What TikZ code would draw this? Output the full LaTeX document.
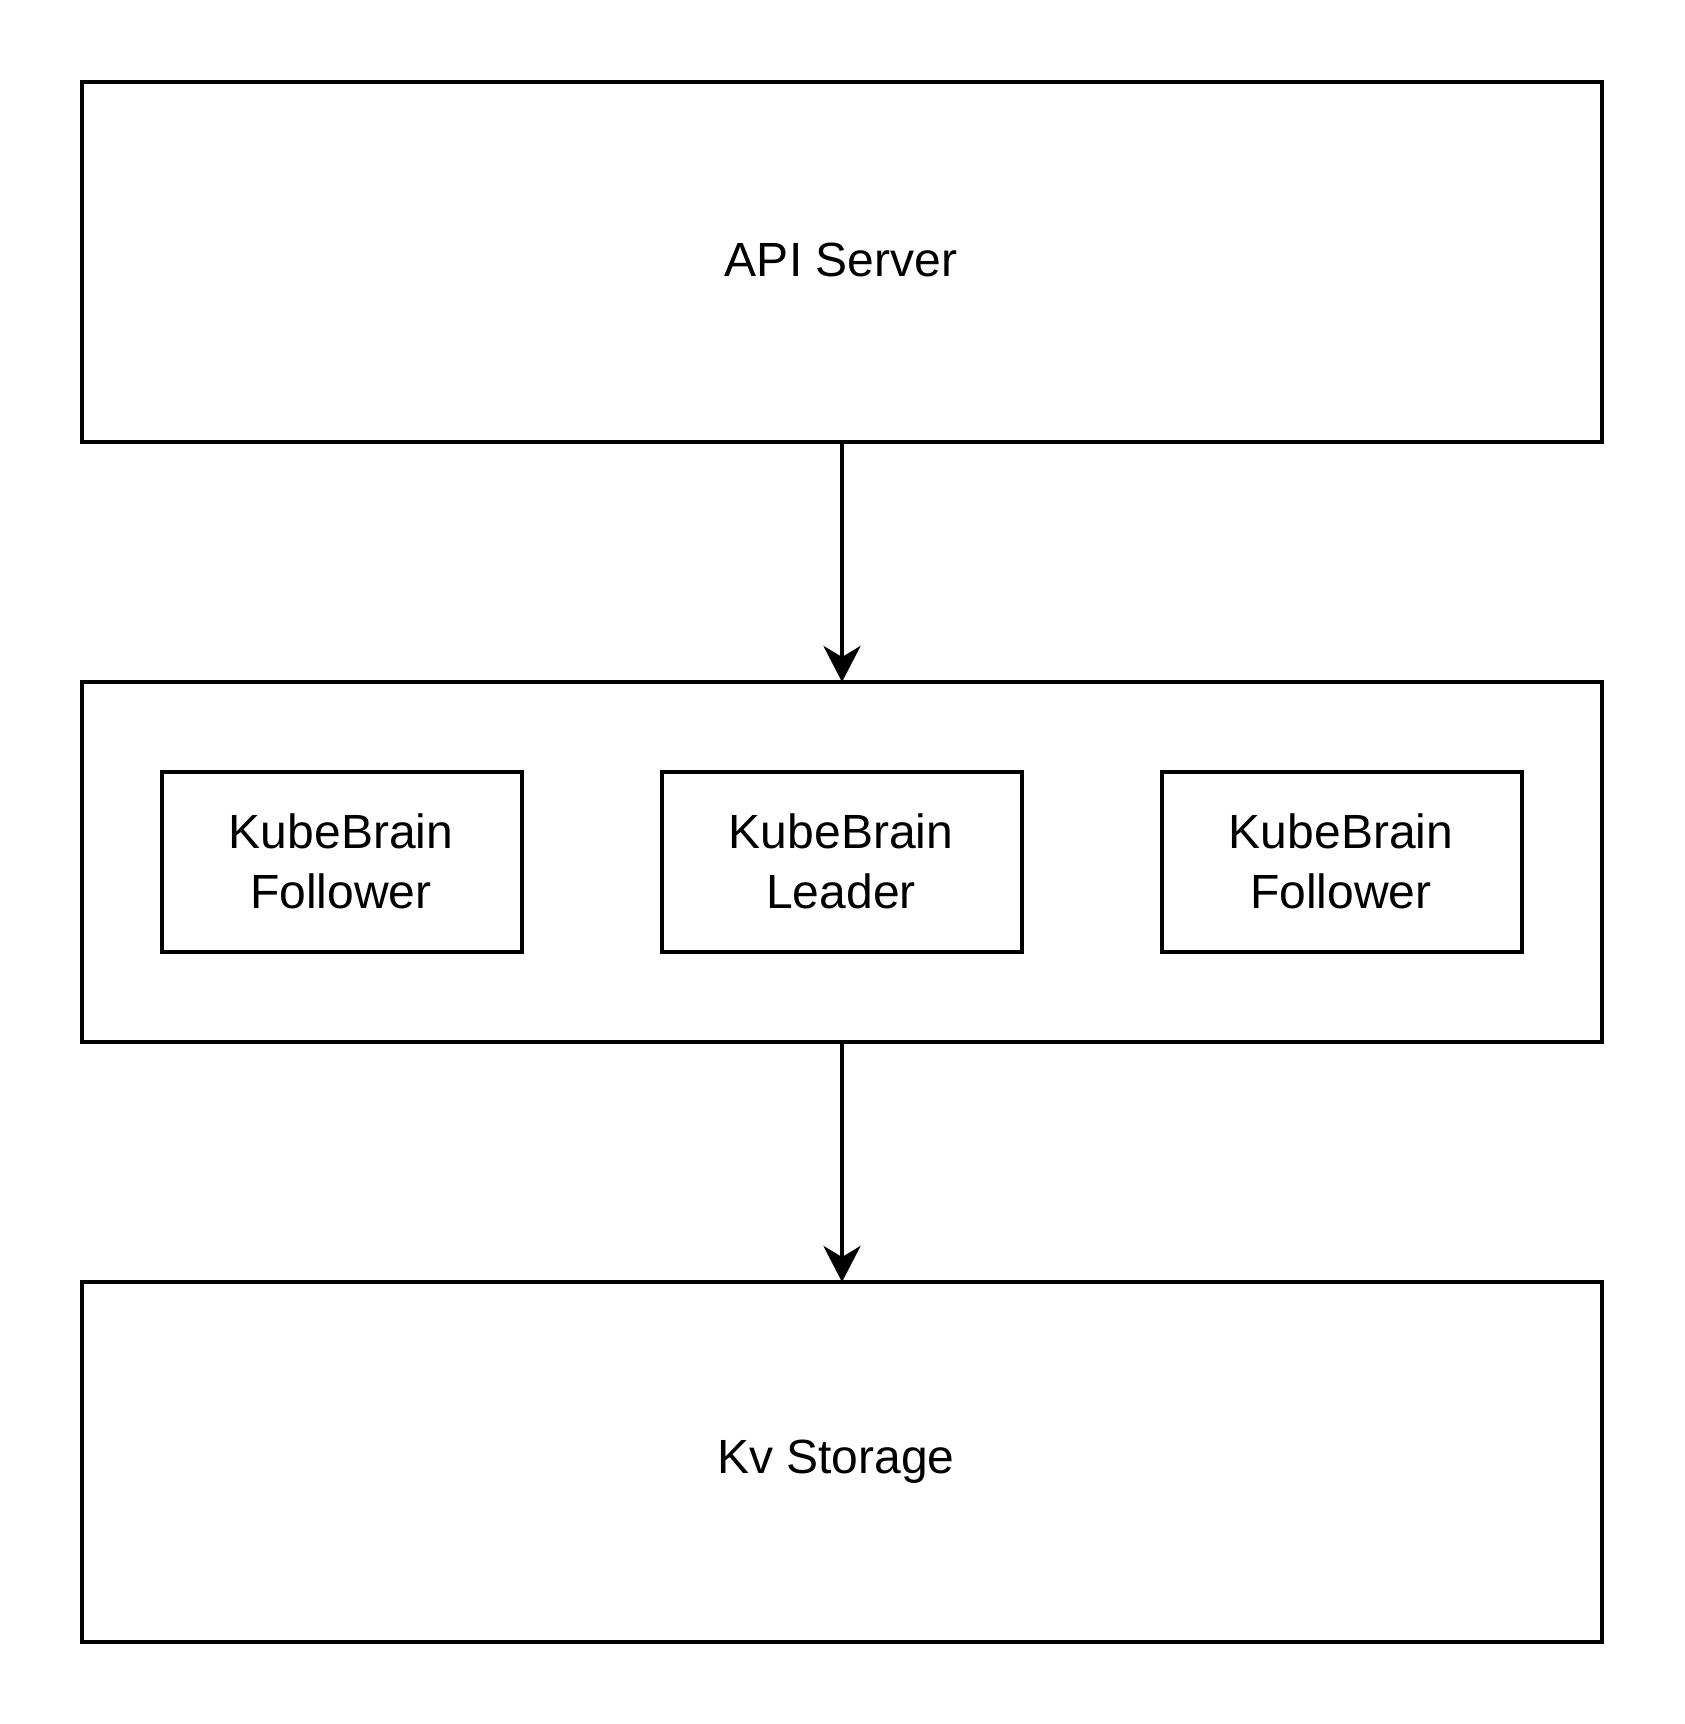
\documentclass[tikz,border=0pt]{standalone}
\usepackage{fontspec}
\setmainfont{Liberation Sans}
\usetikzlibrary{arrows.meta}
\begin{document}
\begin{tikzpicture}[x=1pt,y=-1pt,
  box/.style={draw=black, line width=4pt, fill=white},
  lbl/.style={font=\fontsize{48}{60}\selectfont, align=center, inner sep=0pt},
  conn/.style={line width=4pt, -{Stealth[length=36pt,width=37pt,inset=11pt]}}]
\useasboundingbox (0,0) rectangle (1684,1724);
\draw[box] (82,82) rectangle (1602,442);
\node[lbl] (api) at (841,260) {API Server};
\coordinate (apib) at (842,442);
\draw[box] (82,682) rectangle (1602,1042);
\coordinate (midt) at (842,682);
\coordinate (midb) at (842,1042);
\draw[box] (82,1282) rectangle (1602,1642);
\coordinate (kvt) at (842,1282);
\node[lbl] (kv) at (836,1462) {Kv Storage};
\draw[box] (162,772) rectangle (522,952);
\node[lbl] (f1) at (341,861) {KubeBrain\\Follower};
\draw[box] (662,772) rectangle (1022,952);
\node[lbl] (ld) at (841,861) {KubeBrain\\Leader};
\draw[box] (1162,772) rectangle (1522,952);
\node[lbl] (f2) at (1341,861) {KubeBrain\\Follower};
\draw[conn] (apib) -- (midt);
\draw[conn] (midb) -- (kvt);
\end{tikzpicture}
\end{document}
